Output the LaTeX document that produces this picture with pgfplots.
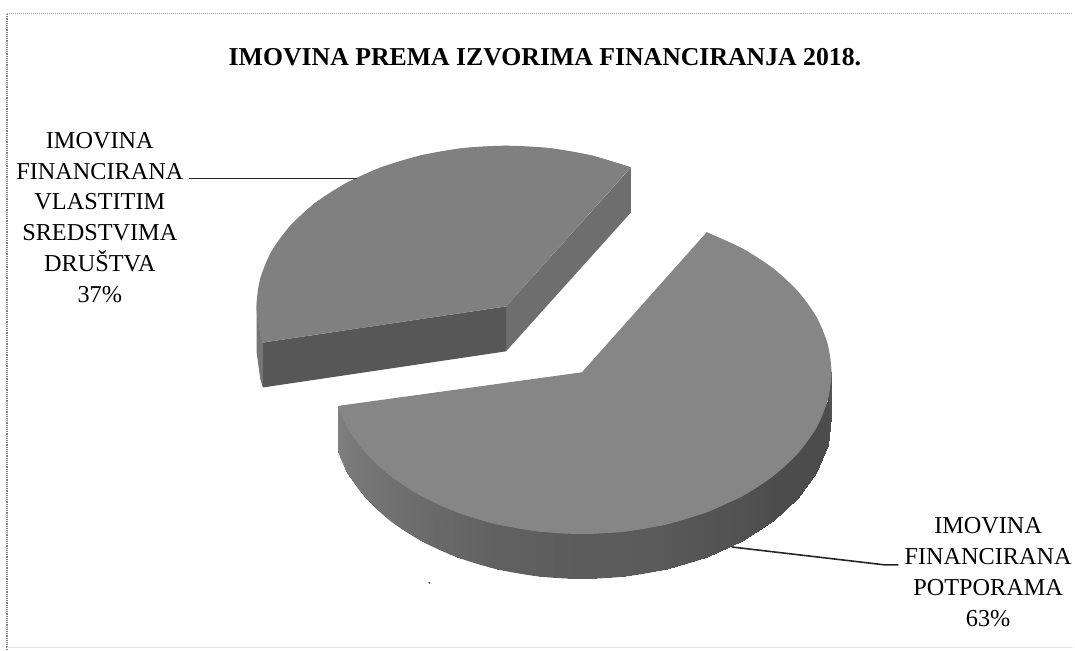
\documentclass[border=0pt]{standalone}
\usepackage{fontspec}
\setmainfont{Liberation Serif}
\usepackage{pgfplots}
\pgfplotsset{compat=1.18}
\definecolor{topface}{gray}{0.50}
\definecolor{topfacelow}{gray}{0.525}
\definecolor{cutfront}{gray}{0.34}
\definecolor{cutside}{gray}{0.43}
\definecolor{sliver}{gray}{0.46}
\definecolor{rimback}{gray}{0.36}
\definecolor{leader}{gray}{0.15}
\definecolor{scanline}{gray}{0.5}
\begin{document}
\begin{tikzpicture}
\begin{axis}[
    hide axis, clip=false, scale only axis,
    width=1075pt, height=652pt,
    xmin=0, xmax=1075, ymin=0, ymax=652,
    y dir=reverse,
    colormap/blackwhite, point meta min=0, point meta max=1,
  ]
  % keeps the whole canvas in the bounding box
  \addplot[draw=none] coordinates {(0,0) (1075,652)};

  % scan edges
  \addplot[scanline, line width=1.2pt, densely dotted] coordinates {(7,14) (7,650)};
  \addplot[scanline!70, line width=1pt, densely dotted] coordinates {(7,14) (1075,14)};
  \addplot[gray!20, line width=1pt] coordinates {(7,649) (1075,649)};
  \addplot[black, only marks, mark=*, mark size=0.5pt] coordinates {(430,584)};

  % IMOVINA FINANCIRANA VLASTITIM SREDSTVIMA DRUSTVA, 37%
  \addplot[fill=cutside, draw=none] coordinates {(507,307) (632,168) (632,213) (507,352)};
  \addplot[fill=cutfront, draw=none] coordinates {(263.4,343.2) (507,307) (507,352) (263.4,388.2)};
  \addplot[fill=sliver, draw=none] coordinates {(257,307) (260.8,335) (263.4,343.2) (263.4,388.2) (260.8,380) (257,352)};
  \addplot[fill=topface, draw=none] coordinates {
    (507,307) (632,167.6) (592.5,155.7) (550.4,148.4) (507,146) (463.6,148.4)
    (421.5,155.7) (382,167.6) (346.3,183.7) (315.5,203.5) (290.5,226.5) (272,251.9)
    (260.8,279) (257,307) (260.8,335) (263.4,343.2)
  };
  \addplot[fill=topface, draw=none, smooth] coordinates {
    (632,167.6) (592.5,155.7) (550.4,148.4) (507,146) (463.6,148.4)
    (421.5,155.7) (382,167.6) (346.3,183.7) (315.5,203.5) (290.5,226.5) (272,251.9)
    (260.8,279) (257,307) (260.8,335) (263.4,343.2)
  };

  % IMOVINA FINANCIRANA POTPORAMA, 63%: rim then top
  \addplot[fill=rimback, draw=none, smooth] coordinates {
    (833,418) (829.2,446.1) (818,473.4) (799.5,499) (774.5,522.1) (743.7,542.1)
    (708,558.3) (668.5,570.2) (626.4,577.5) (583,580) (539.6,577.5) (497.5,570.2)
    (458,558.3) (422.3,542.1) (391.5,522.1) (366.5,499) (348,473.4) (338.5,451.7)
  };
  \addplot[patch, patch type=rectangle, shader=interp, point meta=explicit]
    table[row sep=\\, x=x, y=y, meta=c] {
    x y c\\
    833 373 .33\\ 833 418 .33\\ 829.2 446.1 .30\\ 829.2 401.1 .30\\
    829.2 401.1 .30\\ 829.2 446.1 .30\\ 818 473.4 .30\\ 818 428.4 .30\\
    818 428.4 .30\\ 818 473.4 .30\\ 799.5 499 .30\\ 799.5 454 .30\\
    799.5 454 .30\\ 799.5 499 .30\\ 774.5 522.1 .30\\ 774.5 477.1 .30\\
    774.5 477.1 .30\\ 774.5 522.1 .30\\ 743.7 542.1 .32\\ 743.7 497.1 .32\\
    743.7 497.1 .32\\ 743.7 542.1 .32\\ 708 558.3 .33\\ 708 513.3 .33\\
    708 513.3 .33\\ 708 558.3 .33\\ 668.5 570.2 .35\\ 668.5 525.2 .35\\
    668.5 525.2 .35\\ 668.5 570.2 .35\\ 626.4 577.5 .36\\ 626.4 532.5 .36\\
    626.4 532.5 .36\\ 626.4 577.5 .36\\ 583 580 .36\\ 583 535 .36\\
    583 535 .36\\ 583 580 .36\\ 539.6 577.5 .37\\ 539.6 532.5 .37\\
    539.6 532.5 .37\\ 539.6 577.5 .37\\ 497.5 570.2 .38\\ 497.5 525.2 .38\\
    497.5 525.2 .38\\ 497.5 570.2 .38\\ 458 558.3 .40\\ 458 513.3 .40\\
    458 513.3 .40\\ 458 558.3 .40\\ 422.3 542.1 .42\\ 422.3 497.1 .42\\
    422.3 497.1 .42\\ 422.3 542.1 .42\\ 391.5 522.1 .44\\ 391.5 477.1 .44\\
    391.5 477.1 .44\\ 391.5 522.1 .44\\ 366.5 499 .46\\ 366.5 454 .46\\
    366.5 454 .46\\ 366.5 499 .46\\ 348 473.4 .48\\ 348 428.4 .48\\
    348 428.4 .48\\ 348 473.4 .48\\ 338.5 451.7 .50\\ 338.5 406.7 .50\\
  };
  \addplot[fill=topfacelow, draw=none] coordinates {
    (583,373) (708,232.7) (743.7,248.9) (774.5,268.8) (799.5,292) (818,317.6)
    (829.2,344.9) (833,373) (829.2,401.1) (818,428.4) (799.5,454) (774.5,477.1)
    (743.7,497.1) (708,513.3) (668.5,525.2) (626.4,532.5) (583,535) (539.6,532.5)
    (497.5,525.2) (458,513.3) (422.3,497.1) (391.5,477.1) (366.5,454) (348,428.4)
    (338.5,406.7)
  };
  % rounds the outer edge, in two pieces so the notch stays open
  \addplot[fill=topfacelow, draw=none, smooth] coordinates {
    (708,232.7) (743.7,248.9) (774.5,268.8) (799.5,292) (818,317.6)
    (829.2,344.9) (833,373) (829.2,401.1) (818,428.4) (799.5,454) (774.5,477.1)
    (743.7,497.1) (708,513.3)
  };
  \addplot[fill=topfacelow, draw=none, smooth] coordinates {
    (708,513.3) (668.5,525.2) (626.4,532.5) (583,535) (539.6,532.5)
    (497.5,525.2) (458,513.3) (422.3,497.1) (391.5,477.1) (366.5,454) (348,428.4)
    (338.5,406.7)
  };

  % leader lines
  \addplot[leader, line width=1.6pt] coordinates {(189,179) (358,179)};
  \addplot[leader, line width=1.6pt] coordinates {(733,548) (887,566) (900,566)};

  \node[font=\fontsize{25.8}{31}\selectfont\bfseries] at (axis cs:546,57) {IMOVINA PREMA IZVORIMA FINANCIRANJA 2018.};
  \node[align=center, font=\fontsize{24.3}{31}\selectfont] at (axis cs:100,218)
    {IMOVINA\\FINANCIRANA\\VLASTITIM\\SREDSTVIMA\\DRUŠTVA\\37\%};
  \node[align=center, font=\fontsize{24.3}{31}\selectfont] at (axis cs:990,573)
    {IMOVINA\\FINANCIRANA\\POTPORAMA\\63\%};
\end{axis}
\end{tikzpicture}
\end{document}
